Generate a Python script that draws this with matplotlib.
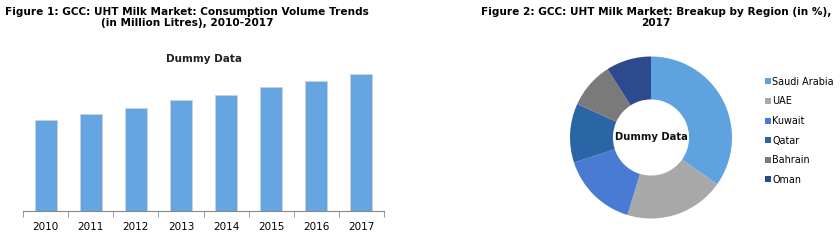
import numpy as np
import matplotlib
matplotlib.use("Agg")
import matplotlib.pyplot as plt
from matplotlib.patches import Patch

# Figure 1 data
years = ["2010", "2011", "2012", "2013", "2014", "2015", "2016", "2017"]
volume = [91, 97, 103, 111, 116, 124, 130, 137]

# Figure 2 data
regions = ["Saudi Arabia", "UAE", "Kuwait", "Qatar", "Bahrain", "Oman"]
share = [34.8, 19.9, 15.3, 11.8, 9.2, 9.0]
region_colors = ["#5ea2e0", "#a8a8a8", "#4a7bd4", "#2a66a6", "#7a7a7a", "#2d4a8e"]

bar_color = "#65a5e1"

W, H = 840, 242
fig = plt.figure(figsize=(W / 100, H / 100), dpi=100)

def box(x0, y0, x1, y1):
    # pixel box (top-left origin) -> figure fraction
    return [x0 / W, 1 - y1 / H, (x1 - x0) / W, (y1 - y0) / H]

# ---- Figure 1: bar chart ----
ax1 = fig.add_axes(box(23, 66, 384, 211))
x = np.arange(len(years))
ax1.bar(x, volume, width=0.49, color=bar_color, edgecolor="#d0d0d0", linewidth=0.6)
ax1.set_xlim(-0.5, len(years) - 0.5)
ax1.set_ylim(0, 145)
ax1.set_xticks(x)
ax1.set_xticklabels(years, fontsize=7.5)
ax1.set_xticks(np.arange(-0.5, len(years)), minor=True)
ax1.tick_params(axis="x", which="major", length=0, pad=8)
ax1.tick_params(axis="x", which="minor", length=4, color="#888888")
ax1.set_yticks([])
for s in ["top", "right", "left"]:
    ax1.spines[s].set_visible(False)
ax1.spines["bottom"].set_color("#888888")
ax1.set_title("Dummy Data", fontsize=7.5, fontweight="bold", pad=3, color="#222222")

fig.text(187 / W, 1 - 7 / H,
         "Figure 1: GCC: UHT Milk Market: Consumption Volume Trends\n(in Million Litres), 2010-2017",
         ha="center", va="top", fontsize=7.6, fontweight="bold", linespacing=1.1)

# ---- Figure 2: donut chart ----
ax2 = fig.add_axes(box(651 - 81, 137.5 - 81, 651 + 81, 137.5 + 81))
ax2.pie(share, colors=region_colors, startangle=90, counterclock=False,
        radius=1.0, wedgeprops=dict(width=0.53, edgecolor="none"))
ax2.set_aspect("equal")
ax2.set_xlim(-1, 1)
ax2.set_ylim(-1, 1)
ax2.text(0, 0, "Dummy Data", ha="center", va="center", fontsize=7.2,
         fontweight="bold", color="#111111")

handles = [Patch(facecolor=c, edgecolor="none") for c in region_colors]
fig.legend(handles, regions, loc="upper left", bbox_to_anchor=(760 / W, 1 - 72 / H),
           frameon=False, fontsize=6.9, handlelength=0.6, handleheight=0.6,
           handletextpad=0.2, labelspacing=1.0, borderpad=0)

fig.text(656 / W, 1 - 7 / H,
         "Figure 2: GCC: UHT Milk Market: Breakup by Region (in %),\n2017",
         ha="center", va="top", fontsize=7.6, fontweight="bold", linespacing=1.1)

fig.savefig("out.png", dpi=100)
